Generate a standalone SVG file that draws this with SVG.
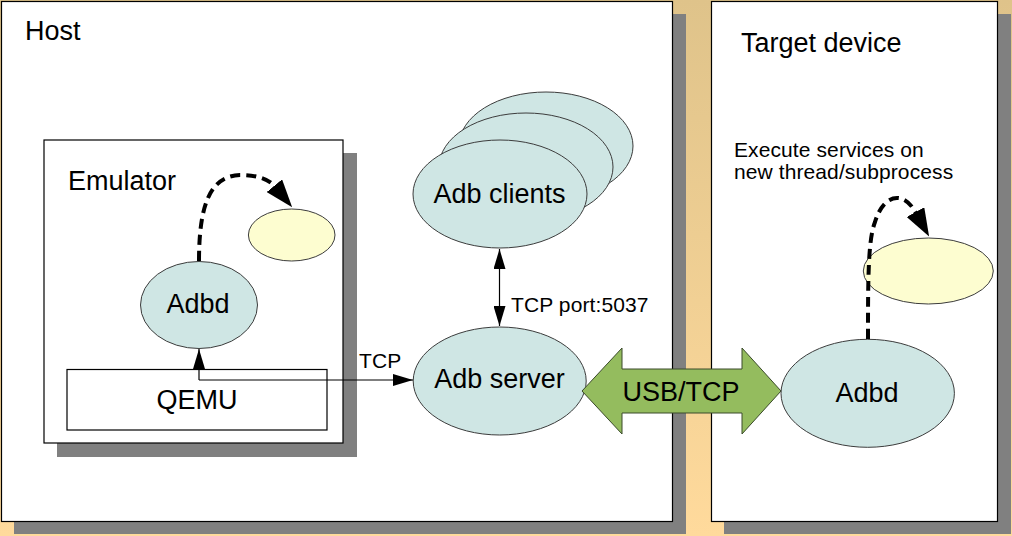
<svg xmlns="http://www.w3.org/2000/svg" width="1012" height="536" viewBox="0 0 1012 536">
  <defs>
    <linearGradient id="bg" x1="0" y1="0" x2="0" y2="1">
      <stop offset="0" stop-color="#DFC38A"/>
      <stop offset="1" stop-color="#FFDA9C"/>
    </linearGradient>
    <marker id="arr" viewBox="0 0 20 12" refX="20" refY="6" markerWidth="20" markerHeight="12" markerUnits="userSpaceOnUse" orient="auto-start-reverse">
      <path d="M0,0 L20,6 L0,12 z" fill="#000"/>
    </marker>
    <marker id="darr" viewBox="0 0 28 20" refX="1" refY="10" markerWidth="28" markerHeight="20" markerUnits="userSpaceOnUse" orient="auto">
      <path d="M0,0 L28,10 L0,20 z" fill="#000"/>
    </marker>
  </defs>
  <style>
    .shadow { fill: #808080; }
    .box { fill: #FFFFFF; stroke: #000; stroke-width: 1.2; }
    .ell { fill: #CFE6E4; stroke: #3C3C3C; stroke-width: 1; }
    .yel { fill: #FDFDD0; stroke: #3C3C3C; stroke-width: 1; }
    .big { font-family: "Liberation Sans", Arial, sans-serif; font-size: 27px; fill: #000; }
    .small { font-family: "Liberation Sans", Arial, sans-serif; font-size: 21px; fill: #000; letter-spacing: 0.1px; }
    .mid { text-anchor: middle; }
    .thin { fill: none; stroke: #000; stroke-width: 1.2; }
    .dash { fill: none; stroke: #000; stroke-width: 4; stroke-dasharray: 10 6; }
  </style>

  <rect x="0" y="0" width="1012" height="536" fill="url(#bg)"/>

  <g id="host">
    <rect class="shadow" x="14" y="14" width="672" height="520"/>
    <rect class="box" x="1.5" y="1.5" width="671" height="520"/>
    <text class="big" x="25" y="40">Host</text>
  </g>

  <g id="target">
    <rect class="shadow" x="724" y="14" width="287" height="520"/>
    <rect class="box" x="711.5" y="1.5" width="286" height="520"/>
    <text class="big" x="741" y="52">Target device</text>
    <text class="small" x="734" y="157">Execute services on</text>
    <text class="small" x="734" y="179">new thread/subprocess</text>
  </g>

  <g id="emulator">
    <rect class="shadow" x="57" y="153" width="300" height="304"/>
    <rect class="box" x="44" y="140" width="299" height="303"/>
    <text class="big" x="68" y="190">Emulator</text>
  </g>

  <g id="qemu">
    <rect class="box" x="67" y="369.5" width="260" height="60.5"/>
    <text class="big mid" x="197" y="409">QEMU</text>
  </g>

  <g id="emu-adbd">
    <ellipse class="ell" cx="199" cy="305" rx="58.5" ry="43.5"/>
    <text class="big mid" x="198" y="313">Adbd</text>
  </g>

  <g id="emu-service">
    <ellipse class="yel" cx="291.7" cy="235" rx="43.3" ry="26"/>
  </g>

  <g id="adb-clients">
    <ellipse class="ell" cx="546" cy="146" rx="87" ry="54"/>
    <ellipse class="ell" cx="526" cy="167" rx="87" ry="54"/>
    <ellipse class="ell" cx="500" cy="194" rx="87" ry="54"/>
    <text class="big mid" x="499.5" y="203">Adb clients</text>
  </g>

  <g id="adb-server">
    <ellipse class="ell" cx="499.7" cy="381" rx="86.5" ry="54"/>
    <text class="big mid" x="499.5" y="388">Adb server</text>
  </g>

  <g id="usb-tcp">
    <polygon points="582,391 622,348 622,369 742,369 742,348 781,391 742,434 742,413 622,413 622,434" fill="#94BC5E" stroke="#3A4A2A" stroke-width="1"/>
    <text class="big mid" x="681" y="401">USB/TCP</text>
  </g>

  <g id="target-adbd">
    <ellipse class="ell" cx="867.7" cy="393.3" rx="86.7" ry="54"/>
    <text class="big mid" x="867" y="402">Adbd</text>
  </g>

  <g id="target-service">
    <ellipse class="yel" cx="928.3" cy="271" rx="65" ry="33"/>
  </g>

  <g id="connectors">
    <line class="thin" x1="499.5" y1="249" x2="499.5" y2="326" marker-start="url(#arr)" marker-end="url(#arr)"/>
    <text class="small" x="511" y="312">TCP port:5037</text>
    <path class="thin" d="M199,380 L199,349" marker-end="url(#arr)"/>
    <path class="thin" d="M199,380 L413,380" marker-end="url(#arr)"/>
    <text class="small" x="359" y="368">TCP</text>
    <path class="dash" d="M199,261 C199,205 210,176 240,175 C255,175 268,178 275,186.5" marker-end="url(#darr)"/>
    <path class="dash" d="M868,339 C868,280 868,240 875,222 C880,206 888,198 897,198 C905,198 911,204 916,213" marker-end="url(#darr)"/>
  </g>
</svg>
